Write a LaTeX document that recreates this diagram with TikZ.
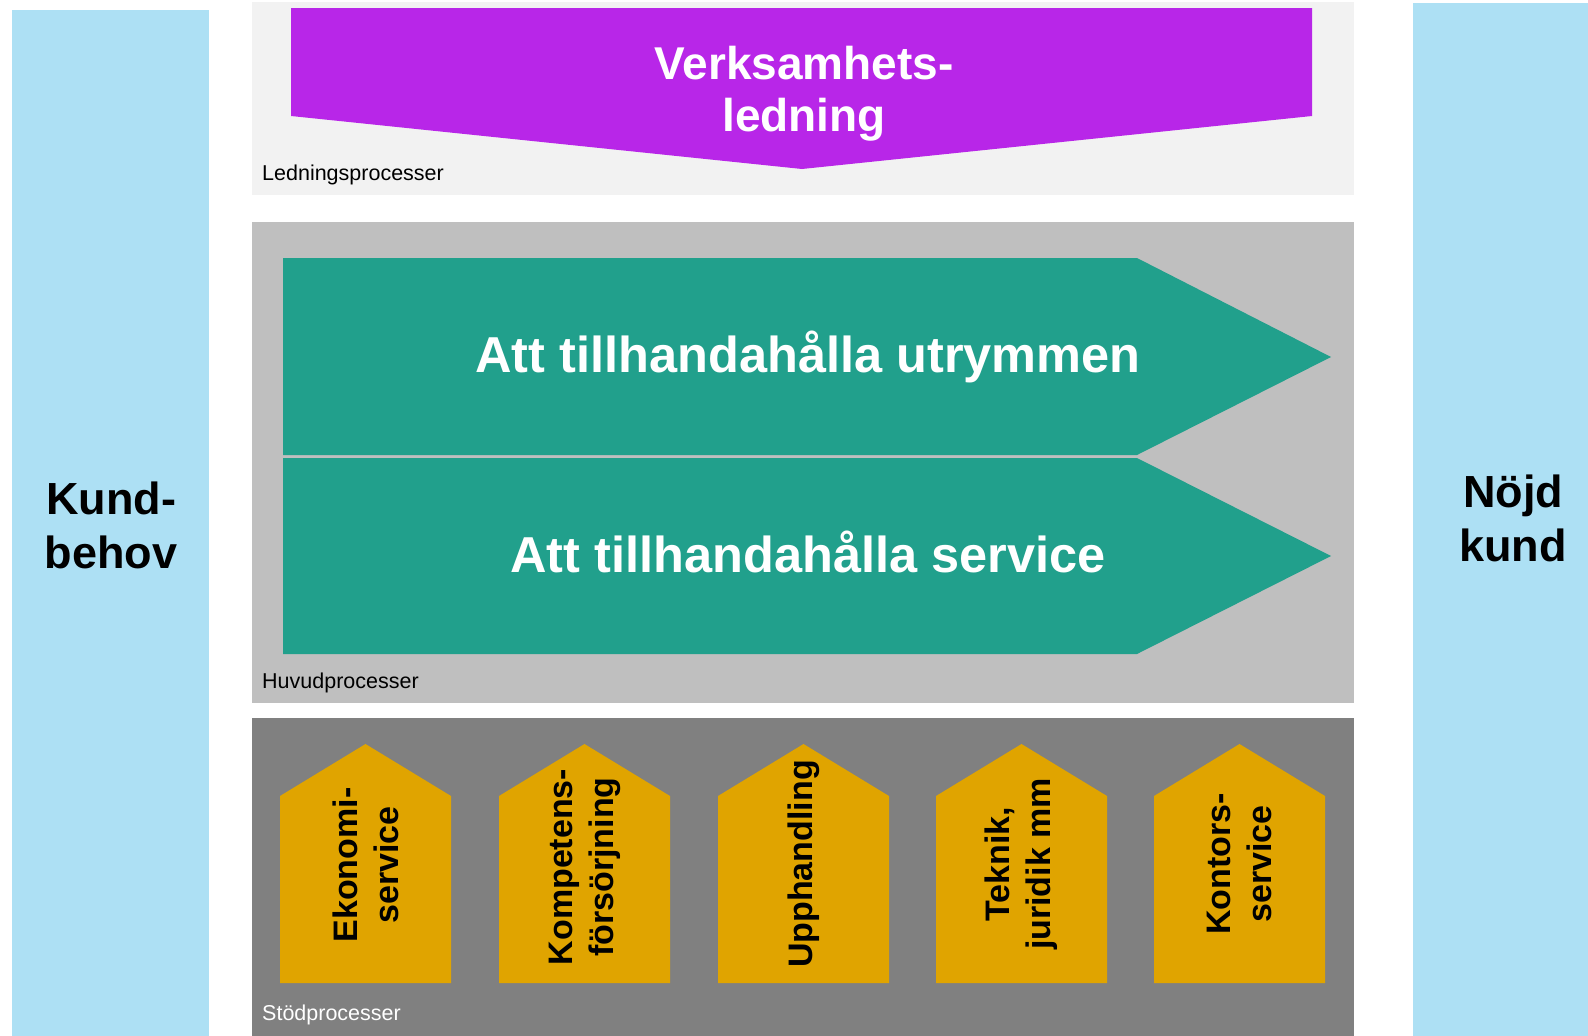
\documentclass[tikz,border=0pt]{standalone}
\usepackage{fontspec}
\setmainfont{Liberation Sans}
\definecolor{kundblue}{HTML}{ADE0F4}
\definecolor{ledpurple}{HTML}{B826E8}
\definecolor{huvudteal}{HTML}{21A08C}
\definecolor{stodorange}{HTML}{E0A400}
\definecolor{panellight}{HTML}{F2F2F2}
\definecolor{panelmid}{HTML}{BFBFBF}
\definecolor{paneldark}{HTML}{808080}

\tikzset{
  sidetext/.style={align=center, inner sep=0pt, font=\fontsize{45}{54}\selectfont\bfseries},
  paneltext/.style={anchor=base west, inner sep=0pt, font=\fontsize{21.5}{24}\selectfont},
  processtext/.style={anchor=base, inner sep=0pt, text=white, font=\fontsize{50.5}{60}\selectfont\bfseries},
  housetext/.style={rotate=90, align=center, inner sep=0pt, font=\fontsize{34}{41}\selectfont\bfseries},
}

\begin{document}
\begin{tikzpicture}[x=1pt, y=-1pt]
      \useasboundingbox (0,0) rectangle (1588,1036);

      % kund columns
      \fill[kundblue] (12,10) rectangle (209,1036);
      \fill[kundblue] (1413,3) rectangle (1588,1036);
      \node[sidetext] (kundbehov) at (111,525) {Kund-\\behov};
      \node[sidetext] (nojdkund) at (1513,518) {Nöjd\\kund};

      % panels
      \fill[panellight] (252,2) rectangle (1354,195);
      \fill[panelmid] (252,222) rectangle (1354,703);
      \fill[paneldark] (252,718) rectangle (1354,1036);
      \node[paneltext] (ledlabel) at (262,180) {Ledningsprocesser};
      \node[paneltext] (huvudlabel) at (262,688) {Huvudprocesser};
      \node[paneltext, text=white] (stodlabel) at (262,1020) {Stödprocesser};

      % ledning
      \fill[ledpurple] (291,8) -- (1312,8) -- (1312,116) -- (802,169) -- (291,116) -- cycle;
      \node[sidetext, text=white, font=\fontsize{46}{52}\selectfont\bfseries] (ledning) at (804,94) {Verksamhets-\\ledning};

      % huvudprocesser
      \fill[huvudteal] (283,258) -- (1137,258) -- (1331,357) -- (1137,455) -- (283,455) -- cycle;
      \fill[huvudteal] (283,458) -- (1137,458) -- (1331,556) -- (1137,654) -- (283,654) -- cycle;
      \node[processtext] (utrymmen) at (808,372) {Att tillhandahålla utrymmen};
      \node[processtext] (service) at (808,572) {Att tillhandahålla service};

      % stodprocesser
      \fill[stodorange] (280,983) -- (280,796) -- (365.5,744) -- (451,796) -- (451,983) -- cycle;
      \fill[stodorange] (499,983) -- (499,796) -- (584.5,744) -- (670,796) -- (670,983) -- cycle;
      \fill[stodorange] (718,983) -- (718,796) -- (803.5,744) -- (889,796) -- (889,983) -- cycle;
      \fill[stodorange] (936,983) -- (936,796) -- (1021.5,744) -- (1107,796) -- (1107,983) -- cycle;
      \fill[stodorange] (1154,983) -- (1154,796) -- (1239.5,744) -- (1325,796) -- (1325,983) -- cycle;
      \node[housetext] (ekonomi) at (365.5,865) {Ekonomi-\\service};
      \node[housetext] (kompetens) at (584.5,867) {Kompetens-\\försörjning};
      \node[housetext] (upphandling) at (803.5,864) {Upphandling};
      \node[housetext] (teknik) at (1021.5,864) {Teknik,\\juridik mm};
      \node[housetext] (kontor) at (1239.5,864) {Kontors-\\service};
\end{tikzpicture}
\end{document}
